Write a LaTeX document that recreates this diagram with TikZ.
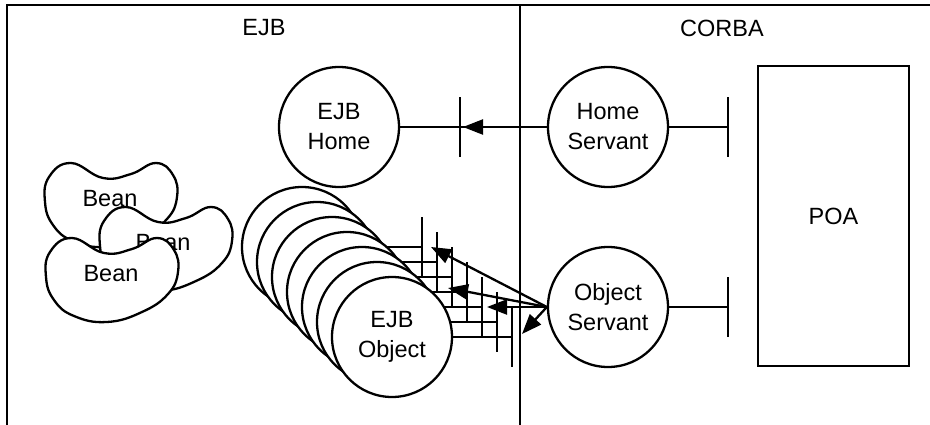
\documentclass[tikz,border=0pt]{standalone}
\usepackage{fontspec}
\setmainfont{Liberation Sans}
\usetikzlibrary{arrows.meta}
\begin{document}
\begin{tikzpicture}[x=1pt,y=-1pt,line width=2.3pt,
  every node/.style={font=\fontsize{23.5}{30}\selectfont, align=center},
  circ/.style={draw, fill=white, circle, minimum size=120pt, inner sep=0pt},
  boxst/.style={draw, fill=white, minimum width=151pt, minimum height=300pt, inner sep=0pt},
  arr/.style={-{Triangle[length=20pt,width=15pt]}},
  bean/.pic={\draw[fill=white, line width=2.3pt] plot[smooth cycle, tension=0.75] coordinates
     {(-40,-42) (-8,-27) (20,-31) (45,-42) (62,-30) (66,-8) (56,14) (30,32) (-5,42) (-38,36) (-58,20) (-66,-3) (-62,-28)};}
]
\useasboundingbox (0,0) rectangle (930,424);
% frame
\draw[line width=2.8pt] (7,430) -- (7,5) -- (935,5);
\draw (520,5) -- (520,430);
\node (tejb) at (264,28) {EJB};
\node (tcorba) at (722,28) {CORBA};
% beans
\pic at (111,205) {bean};
\node (bean1) at (110,199) {Bean};
\pic at (166,249) {bean};
\node (bean2) at (163,243) {Bean};
\pic at (112,280) {bean};
\node (bean3) at (111,274) {Bean};
% EJB object stack
\foreach \k in {0,...,5}{
  \node[circ] (ejbo\k) at ({302+15*\k},{247+15*\k}) {};
  \coordinate (tk\k) at ({422+15*\k},{247+15*\k});
  \draw (ejbo\k.east) -- (tk\k);
  \draw ([yshift=30pt]tk\k) -- ([yshift=-30pt]tk\k);
}
\node[circ] (ejbo6) at (392,337) {EJB\\Object};
\coordinate (tk6) at (512,337);
\draw (ejbo6.east) -- (tk6);
\draw ([yshift=30pt]tk6) -- ([yshift=-30pt]tk6);
% home
\node[circ] (ejbh) at (339,127) {EJB\\Home};
\node[circ] (hs) at (608,127) {Home\\Servant};
\node[circ] (os) at (608,307) {Object\\Servant};
\node[boxst] (poa) at (833.5,216) {POA};
\coordinate (htk) at (460,127);
\draw (hs.west) -- (ejbh.east);
\draw ([yshift=30pt]htk) -- ([yshift=-30pt]htk);
\draw[arr] (hs.west) -- ([xshift=3pt]htk);
% right ticks
\coordinate (rt1) at (728,127);
\coordinate (rt2) at (728,307);
\draw (hs.east) -- (rt1);
\draw ([yshift=30pt]rt1) -- ([yshift=-30pt]rt1);
\draw (os.east) -- (rt2);
\draw ([yshift=30pt]rt2) -- ([yshift=-30pt]rt2);
% object arrows
\coordinate (a1) at (431,247);
\coordinate (a2) at (448,288);
\coordinate (a3) at (487,307);
\coordinate (a4) at (522,334);
\draw[arr] (os.west) -- (a1);
\draw[arr] (os.west) -- (a2);
\draw[arr] (os.west) -- (a3);
\draw[arr] (os.west) -- (a4);
\end{tikzpicture}
\end{document}
